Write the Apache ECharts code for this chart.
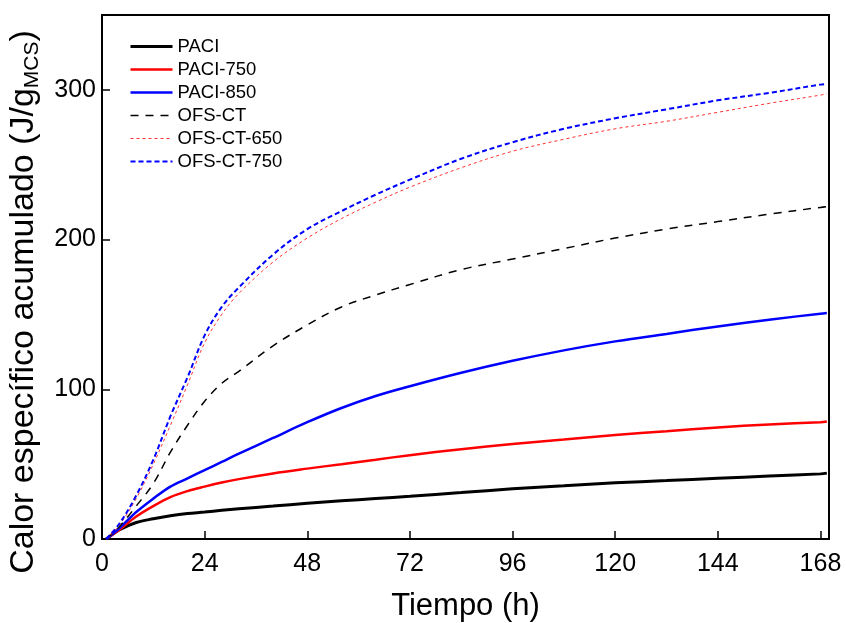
<!DOCTYPE html>
<html>
<head>
<meta charset="utf-8">
<script src="https://cdn.jsdelivr.net/npm/echarts@6/dist/echarts.min.js"></script>
<style>
  html, body { margin: 0; padding: 0; background: #fff; }
  #chart { width: 846px; height: 623px; }
</style>
</head>
<body>
<div id="chart"></div>
<script>
// tiempo (h)
var tiempo = [1, 4, 8, 12, 16, 20, 24, 28, 32, 40, 48, 56, 64, 72, 84, 96, 108, 120, 132, 144, 156, 168, 169.5]

// calor especifico acumulado (J/g MCS)
var paci = [0, 6, 11, 13.5, 15.5, 17, 18, 19.2, 20.2, 22, 23.8, 25.5, 27, 28.5, 31, 33.5, 35.5, 37.5, 39, 40.5, 42, 43.5, 44]
var paci750 = [0, 6, 15, 22, 28, 32, 35, 37.7, 40, 43.8, 47, 50, 53, 56, 60, 63.5, 66.5, 69.5, 72, 74.5, 76.5, 78, 78.5]
var paci850 = [0, 7, 18, 27, 35, 40.5, 46, 51.5, 57, 67.5, 78, 87.5, 95.5, 102, 111, 119, 126, 132, 137, 142, 146.5, 150.5, 151]
var ofsct = [0, 8, 22, 37, 58, 76, 92, 104, 112, 129, 143, 155, 163, 170, 180, 187, 194, 201, 207, 212, 217, 221.5, 222]
var ofsct650 = [0, 9, 27, 50, 76, 103, 131, 150, 164, 185, 201, 214, 225, 235, 248, 259, 267, 274, 279, 285, 291, 296.5, 297.5]
var ofsct750 = [0, 10, 29, 53, 82, 108, 136, 155, 168, 190, 207, 219, 230, 240, 254, 265, 274, 281, 287, 293, 298, 303.5, 304]

var xTicks = [0, 24, 48, 72, 96, 120, 144, 168]
var yTicks = [0, 100, 200, 300]

var fontFamily = '"Liberation Sans", Arial, sans-serif'

function pairs (vals) {
  return tiempo.map(function (t, i) { return [t, vals[i]] })
}

function makeSeries (name, vals, color, width, type) {
  return {
    name: name,
    type: 'line',
    data: pairs(vals),
    symbol: 'none',
    smooth: 0.35,
    lineStyle: { color: color, width: width, type: type },
    itemStyle: { color: color }
  }
}

var chart = echarts.init(document.getElementById('chart'))

var option = {
  backgroundColor: '#fff',
  animation: false,
  textStyle: { fontFamily: fontFamily },
  grid: {
    left: 102,
    right: 17,
    top: 15,
    bottom: 84,
    outerBoundsMode: 'none',
    containLabel: false,
    show: true,
    borderColor: '#000',
    borderWidth: 2
  },
  legend: {
    orient: 'vertical',
    left: 129,
    top: 37,
    padding: 0,
    itemWidth: 42,
    itemHeight: 14,
    itemGap: 4,
    itemStyle: { opacity: 0 },
    lineStyle: { width: 'inherit' },
    textStyle: { fontSize: 18.5, color: '#000', fontFamily: fontFamily },
    data: ['PACI', 'PACI-750', 'PACI-850', 'OFS-CT', 'OFS-CT-650', 'OFS-CT-750']
  },
  xAxis: {
    type: 'value',
    min: 0,
    max: 170,
    interval: 24,
    name: 'Tiempo (h)',
    nameLocation: 'middle',
    nameGap: 52,
    nameTextStyle: { fontSize: 31, color: '#000', fontFamily: fontFamily },
    splitLine: { show: false },
    axisLine: { lineStyle: { color: '#000', width: 2 } },
    axisTick: { inside: true, length: 8, lineStyle: { color: '#000', width: 1.5 } },
    axisLabel: {
      fontSize: 25,
      color: '#000',
      margin: 13,
      showMaxLabel: false,
      formatter: function (v) { return xTicks.indexOf(v) >= 0 ? String(v) : '' }
    }
  },
  yAxis: {
    type: 'value',
    min: 0,
    max: 350,
    interval: 100,
    name: '{a|Calor específico acumulado (J/g}{s|MCS}{a|)}',
    nameLocation: 'middle',
    nameRotate: 90,
    nameGap: 59,
    nameTextStyle: {
      color: '#000',
      fontFamily: fontFamily,
      padding: [0, 50, 0, 0],
      rich: {
        a: { fontSize: 34, color: '#000', fontFamily: fontFamily, lineHeight: 38 },
        s: { fontSize: 21, color: '#000', fontFamily: fontFamily, verticalAlign: 'bottom', lineHeight: 38, padding: [16, 0, 0, 0] }
      }
    },
    splitLine: { show: false },
    axisLine: { lineStyle: { color: '#000', width: 2 } },
    axisTick: { inside: true, length: 8, lineStyle: { color: '#000', width: 1.5 } },
    axisLabel: {
      fontSize: 25,
      color: '#000',
      margin: 6,
      showMaxLabel: false,
      formatter: function (v) { return yTicks.indexOf(v) >= 0 ? String(v) : '' }
    }
  },
  series: [
    makeSeries('PACI', paci, '#000000', 3, 'solid'),
    makeSeries('PACI-750', paci750, '#ff0000', 2.5, 'solid'),
    makeSeries('PACI-850', paci850, '#0000ff', 2.5, 'solid'),
    makeSeries('OFS-CT', ofsct, '#000000', 1.5, [8, 7]),
    makeSeries('OFS-CT-650', ofsct650, '#ff3030', 1, [3, 3]),
    makeSeries('OFS-CT-750', ofsct750, '#0000ff', 2, [5, 3])
  ]
}

chart.setOption(option)
</script>
</body>
</html>
